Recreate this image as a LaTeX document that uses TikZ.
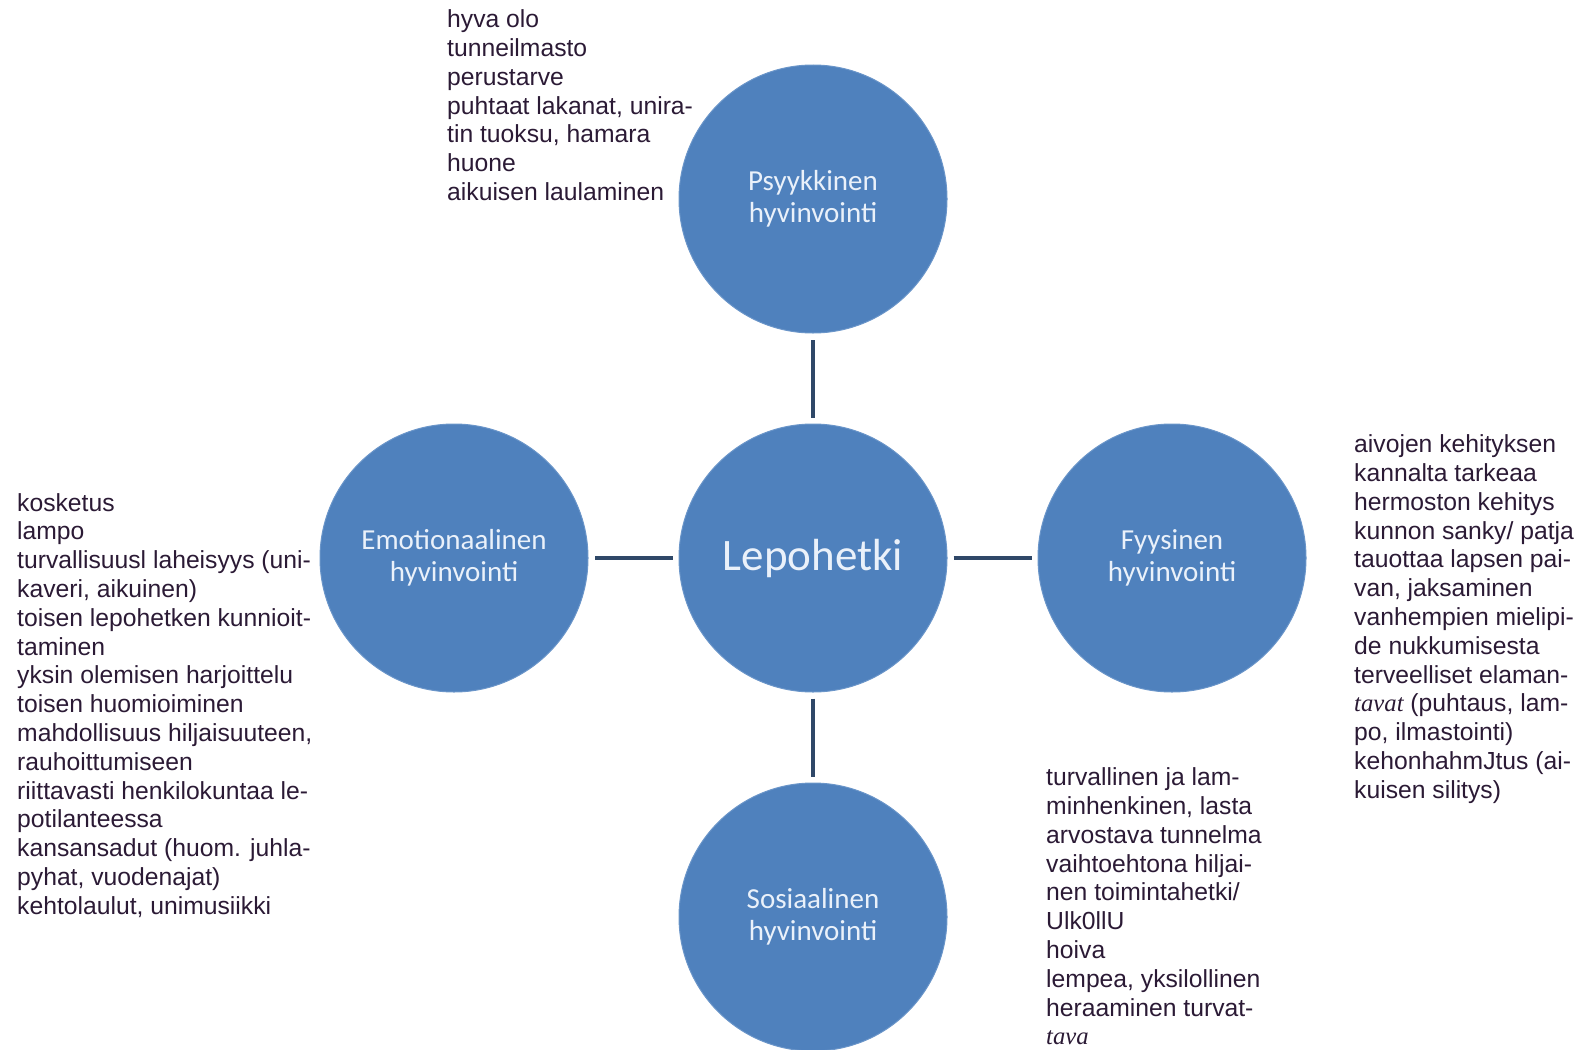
\documentclass[tikz,border=0pt]{standalone}
\usepackage{fontspec}
\setmainfont{Liberation Sans}
\newfontfamily\calibri{Carlito}
\newfontfamily\timesit{Liberation Serif}
\usetikzlibrary{positioning}
\definecolor{circblue}{HTML}{4F81BD}
\definecolor{circedge}{HTML}{6A95C9}
\definecolor{linknavy}{HTML}{2F4868}
\definecolor{notetext}{HTML}{2B1A35}
\definecolor{labelwhite}{HTML}{EAF1FA}

\begin{document}
\begin{tikzpicture}[x=1pt, y=1pt, node distance={90pt},
    main/.style = {draw=circedge, line width=1pt, circle, fill=circblue, minimum size=268pt, inner sep=0pt, text=labelwhite, align=center, font=\calibri\fontsize{29}{32}\selectfont},
    link/.style = {draw=linknavy, line width=4.5pt, shorten <=6pt, shorten >=6pt},
    note/.style = {anchor=north west, inner sep=0pt, align=left, text=notetext, font=\fontsize{24.7}{28.8}\selectfont}]
    \useasboundingbox (0,0) rectangle (1584,-1049);
    \node[main, font=\calibri\fontsize{45}{50}\selectfont] (1) at (813,-558) {Lepohetki};
    \node[main] (2) [above=of 1] {Psyykkinen\\hyvinvointi};
    \node[main] (3) [left=of 1] {Emotionaalinen\\hyvinvointi};
    \node[main] (4) [right=of 1] {Fyysinen\\hyvinvointi};
    \node[main] (5) [below=of 1] {Sosiaalinen\\hyvinvointi};
    \draw[link] (1) -- (2);
    \draw[link] (1) -- (3);
    \draw[link] (1) -- (4);
    \draw[link] (1) -- (5);
    % lists of notes round the circles
    \node[note] (t2) at (447,-9.5) {hyva olo\\tunneilmasto\\perustarve\\puhtaat lakanat, unira-\\tin tuoksu, hamara\\huone\\aikuisen laulaminen};
    \node[note] (t3) at (17,-493) {kosketus\\lampo\\turvallisuusl laheisyys (uni-\\kaveri, aikuinen)\\toisen lepohetken kunnioit-\\taminen\\yksin olemisen harjoittelu\\toisen huomioiminen\\mahdollisuus hiljaisuuteen,\\rauhoittumiseen\\riittavasti henkilokuntaa le-\\potilanteessa\\kansansadut (huom. juhla-\\pyhat, vuodenajat)\\kehtolaulut, unimusiikki};
    \node[note] (t4) at (1354,-434.5) {aivojen kehityksen\\kannalta tarkeaa\\hermoston kehitys\\kunnon sanky/ patja\\tauottaa lapsen pai-\\van, jaksaminen\\vanhempien mielipi-\\de nukkumisesta\\terveelliset elaman-\\{\timesit\itshape tavat} (puhtaus, lam-\\po, ilmastointi)\\kehonhahmJtus (ai-\\kuisen silitys)};
    \node[note] (t5) at (1046,-767.5) {turvallinen ja lam-\\minhenkinen, lasta\\arvostava tunnelma\\vaihtoehtona hiljai-\\nen toimintahetki/\\Ulk0llU\\hoiva\\lempea, yksilollinen\\heraaminen turvat-\\{\timesit\itshape tava}};
\end{tikzpicture}
\end{document}
